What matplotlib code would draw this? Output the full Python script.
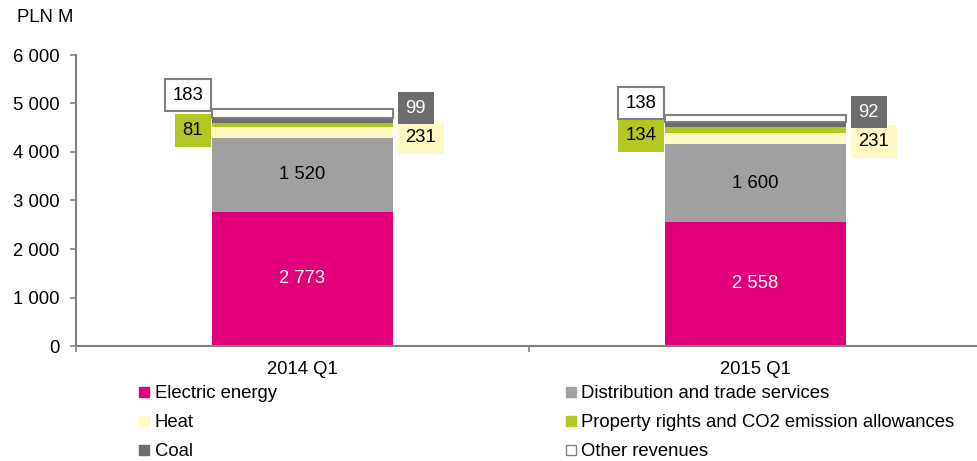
import numpy as np
import matplotlib
matplotlib.use('Agg')
import matplotlib.pyplot as plt
from matplotlib.lines import Line2D

plt.rcParams['font.family'] = ['Liberation Sans', 'DejaVu Sans']

quarters = ['2014 Q1', '2015 Q1']
series = ['Electric energy', 'Distribution and trade services', 'Heat',
          'Property rights and CO2 emission allowances', 'Coal', 'Other revenues']
electric = [2773, 2558]
distribution = [1520, 1600]
heat = [231, 231]
property_rights = [81, 134]
coal = [99, 92]
other = [183, 138]

colors = ['#E2007A', '#A0A0A0', '#FFF9C4', '#B3C723', '#6D6D6D', '#FFFFFF']
edge_gray = '#808080'
fs = 13.3

def fmt(v):
    return '{:,}'.format(int(v)).replace(',', ' ')

fig = plt.figure(figsize=(9.78, 4.61), dpi=100)
ax = fig.add_axes([76 / 978, 115 / 461, 906 / 978, 291 / 461])

x = np.arange(len(quarters))
w = 0.40
values = [electric, distribution, heat, property_rights, coal, other]
bottom = np.zeros(len(quarters))
bottoms = []
for vals, c in zip(values, colors):
    vals = np.array(vals, dtype=float)
    if c == '#FFFFFF':
        ax.bar(x, vals, w, bottom=bottom, color=c, edgecolor=edge_gray, linewidth=1.5, zorder=3)
    else:
        ax.bar(x, vals, w, bottom=bottom, color=c, linewidth=0, zorder=2)
    bottoms.append(bottom.copy())
    bottom = bottom + vals

# labels inside the two big segments
for i in range(len(quarters)):
    ax.text(x[i], bottoms[0][i] + electric[i] / 2, fmt(electric[i]), ha='center', va='center',
            color='white', fontsize=fs, zorder=5)
    ax.text(x[i], bottoms[1][i] + distribution[i] / 2, fmt(distribution[i]), ha='center', va='center',
            color='black', fontsize=fs, zorder=5)

# outside boxed labels (side, offset from segment middle in data units per quarter)
outside = [
    (2, 'right', [-105, -52], '#FFF9C4', 'none', 'black'),
    (3, 'left', [-117, -111], '#B3C723', 'none', 'black'),
    (4, 'right', [249, 252], '#6D6D6D', 'none', 'white'),
    (5, 'left', [376, 323], 'white', edge_gray, 'black'),
]
for k, side, offs, fc, ec, tc in outside:
    for i in range(len(quarters)):
        mid = bottoms[k][i] + values[k][i] / 2 + offs[i]
        if side == 'left':
            xa, dx, ha = x[i] - w / 2, -6.3, 'right'
        else:
            xa, dx, ha = x[i] + w / 2, 9.0, 'left'
        ax.annotate(fmt(values[k][i]), (xa, mid), xytext=(dx, 0), textcoords='offset points',
                    ha=ha, va='center', fontsize=fs, color=tc, zorder=6,
                    bbox=dict(boxstyle='square,pad=0.42', fc=fc, ec=ec, lw=1.5))

ax.set_xlim(-0.5, 1.5)
ax.set_ylim(0, 6000)
ax.set_yticks(np.arange(0, 6001, 1000))
ax.set_yticklabels([fmt(v) for v in np.arange(0, 6001, 1000)], fontsize=fs)
ax.set_xticks(x)
ax.set_xticklabels(quarters, fontsize=fs)
ax.set_xticks([-0.5, 0.5, 1.5], minor=True)
ax.tick_params(axis='x', which='major', length=0, pad=11)
ax.tick_params(axis='x', which='minor', length=4, width=1.2, color=edge_gray)
ax.tick_params(axis='y', length=4, width=1.2, color=edge_gray, pad=8)
for s in ['top', 'right']:
    ax.spines[s].set_visible(False)
for s in ['left', 'bottom']:
    ax.spines[s].set_color(edge_gray)
    ax.spines[s].set_linewidth(1.5)

fig.text(17 / 978, 1 - 18 / 461, 'PLN M', fontsize=fs, va='center', ha='left')

handles = []
for c, lab in zip(colors, series):
    mec = edge_gray if c == '#FFFFFF' else c
    handles.append(Line2D([], [], marker='s', linestyle='none', markersize=7,
                          markerfacecolor=c, markeredgecolor=mec, markeredgewidth=1.0, label=lab))
order = [0, 2, 4, 1, 3, 5]
fig.legend([handles[j] for j in order], [series[j] for j in order], ncol=2, frameon=False,
           loc='upper left', bbox_to_anchor=(138 / 978, 1 - 385 / 461), fontsize=fs,
           handlelength=0.7, handletextpad=0.2, columnspacing=15.6, labelspacing=0.66,
           borderpad=0, borderaxespad=0)

fig.savefig('out.png', dpi=100)
